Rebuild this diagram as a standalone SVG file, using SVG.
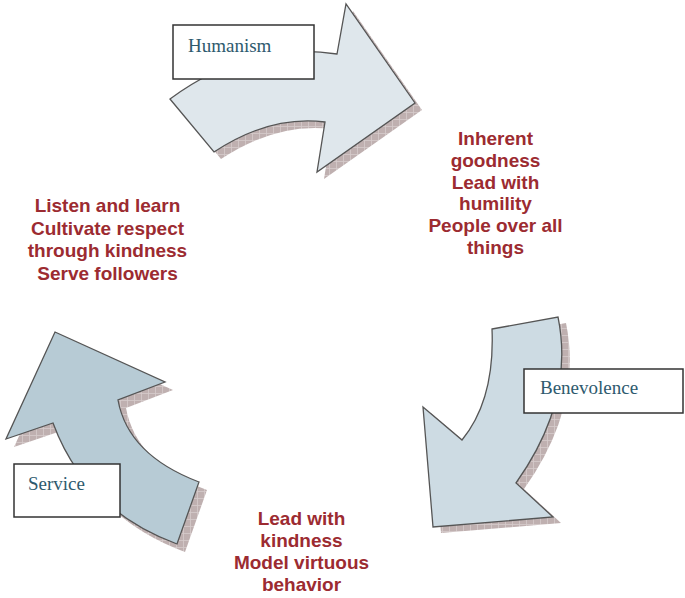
<svg xmlns="http://www.w3.org/2000/svg" width="685" height="598" viewBox="0 0 685 598">
<defs>
<pattern id="grid" width="7" height="7" patternUnits="userSpaceOnUse">
<rect width="7" height="7" fill="#bfb0b0"/>
<path d="M0 0.5H7M0.5 0V7" stroke="#d6cbcb" stroke-width="0.8" fill="none"/>
</pattern>
</defs>
<style>
.shadow{fill:url(#grid);stroke:none}
.arrow{stroke:#555;stroke-width:1.3;stroke-linejoin:miter}
.box{fill:#fff;stroke:#333;stroke-width:1.5}
.lbl{font-family:"Liberation Serif","Times New Roman",serif;font-size:19px;fill:#2e5a6e}
.note{font-family:"Liberation Sans",Arial,sans-serif;font-size:19px;font-weight:bold;fill:#9c2b31;text-anchor:middle}
</style>
<rect width="685" height="598" fill="#fff"/>
<g id="connectors">
<g id="arrow-humanism">
<path class="shadow" transform="translate(7,7)" d="M170 99 Q250 40 337 54 L346 4 L415 103 L317 172 L325 122 Q270 115 214 152 Z"/>
<path class="arrow" fill="#dfe7ec" d="M170 99 Q250 40 337 54 L346 4 L415 103 L317 172 L325 122 Q270 115 214 152 Z"/>
</g>
<g id="arrow-benevolence">
<path class="shadow" transform="translate(8,6)" d="M492 329 L558 317 Q575 400 516 483 L553 517 L433 527 L423 407 L462 440 Q495 400 492 329 Z"/>
<path class="arrow" fill="#cddbe3" d="M492 329 L558 317 Q575 400 516 483 L553 517 L433 527 L423 407 L462 440 Q495 400 492 329 Z"/>
</g>
<g id="arrow-service">
<path class="shadow" transform="translate(8,8)" d="M55 332 L165 382 L118 400 Q128 455 199 482 L177 544 Q85 510 53 423 L6 439 Z"/>
<path class="arrow" fill="#b7cbd5" d="M55 332 L165 382 L118 400 Q128 455 199 482 L177 544 Q85 510 53 423 L6 439 Z"/>
</g>
</g>
<g id="node-humanism">
<rect class="box" x="173" y="25" width="141" height="54"/>
<text class="lbl" x="188" y="52">Humanism</text>
</g>
<g id="node-benevolence">
<rect class="box" x="524" y="369" width="159" height="44"/>
<text class="lbl" x="540" y="394">Benevolence</text>
</g>
<g id="node-service">
<rect class="box" x="14" y="464" width="106" height="53"/>
<text class="lbl" x="28" y="490">Service</text>
</g>
<g id="text-humanism">
<text class="note" x="495.5" y="145">Inherent</text>
<text class="note" x="495.5" y="166.8">goodness</text>
<text class="note" x="495.5" y="188.6">Lead with</text>
<text class="note" x="495.5" y="210.4">humility</text>
<text class="note" x="495.5" y="232.2">People over all</text>
<text class="note" x="495.5" y="254">things</text>
</g>
<g id="text-benevolence">
<text class="note" x="301.5" y="525">Lead with</text>
<text class="note" x="301.5" y="547">kindness</text>
<text class="note" x="301.5" y="569">Model virtuous</text>
<text class="note" x="301.5" y="591">behavior</text>
</g>
<g id="text-service">
<text class="note" x="107.5" y="212">Listen and learn</text>
<text class="note" x="107.5" y="234.5">Cultivate respect</text>
<text class="note" x="107.5" y="257">through kindness</text>
<text class="note" x="107.5" y="279.5">Serve followers</text>
</g>
</svg>
